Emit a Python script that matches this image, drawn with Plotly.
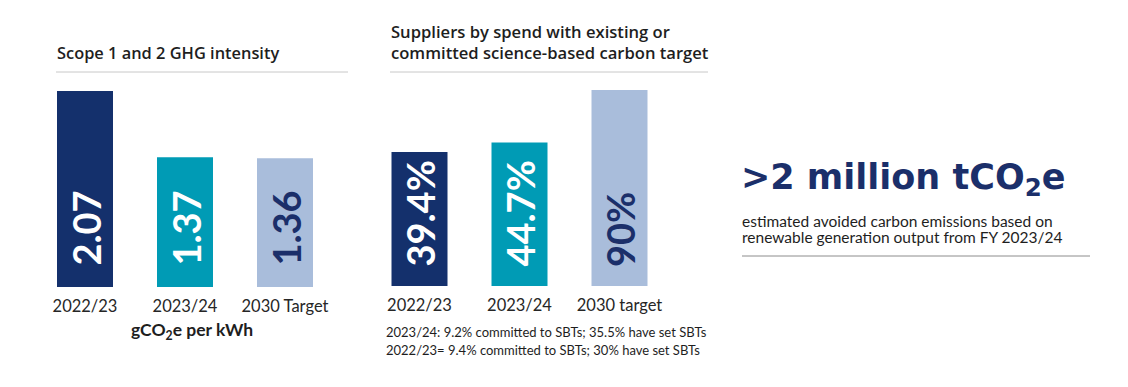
import plotly.graph_objects as go

W, H = 1128, 387

# ---- data ----
ghg_categories = ["2022/23", "2023/24", "2030 Target"]
ghg_values = [2.07, 1.37, 1.36]
ghg_labels = ["2.07", "1.37", "1.36"]

sbt_categories = ["2022/23", "2023/24", "2030 target"]
sbt_values = [39.4, 44.7, 90]
sbt_labels = ["39.4%", "44.7%", "90%"]

bar_colors = ["#14306C", "#009BB5", "#A9BDDB"]
label_colors = ["#FFFFFF", "#FFFFFF", "#1B2F6A"]

FONT = "Lato"
NAVY = "#1B2F6A"
TXT = "#1E1E1E"


def px_x(p):
    return p / W


def px_y(p):
    return 1 - p / H


fig = go.Figure()

fig.add_trace(go.Bar(
    x=ghg_categories, y=ghg_values, marker=dict(color=bar_colors, line=dict(width=0)),
    width=0.56, xaxis="x", yaxis="y", hoverinfo="skip", showlegend=False,
))
fig.add_trace(go.Bar(
    x=sbt_categories, y=sbt_values, marker=dict(color=bar_colors, line=dict(width=0)),
    width=0.56, xaxis="x2", yaxis="y2", hoverinfo="skip", showlegend=False,
))

tick_font = dict(family=FONT, size=16.5, color="#262626")

fig.update_layout(
    width=W, height=H,
    margin=dict(l=0, r=0, t=0, b=0),
    paper_bgcolor="white", plot_bgcolor="white",
    xaxis=dict(domain=[px_x(35), px_x(335)], range=[-0.5, 2.5], type="category",
               showgrid=False, zeroline=False, showline=False, ticks="",
               tickfont=tick_font, ticklabelstandoff=7, fixedrange=True),
    yaxis=dict(domain=[px_y(287), px_y(80)], range=[0, 207 / 94.7], visible=False,
               fixedrange=True),
    xaxis2=dict(domain=[px_x(369.5), px_x(669.5)], range=[-0.5, 2.5], type="category",
                showgrid=False, zeroline=False, showline=False, ticks="",
                tickfont=tick_font, ticklabelstandoff=7, anchor="y2", fixedrange=True),
    yaxis2=dict(domain=[px_y(286), px_y(80)], type="log", range=[0.820, 2.012],
                visible=False, anchor="x2", fixedrange=True),
)

annotations = []
# value labels inside bars
for cat, lab, col in zip(ghg_categories, ghg_labels, label_colors):
    annotations.append(dict(
        x=cat, y=0, xref="x", yref="y domain", text=lab, showarrow=False,
        textangle=-90, xanchor="center", yanchor="bottom", yshift=19,
        font=dict(family=FONT, size=38, color=col, weight="bold"),
    ))
for cat, lab, col in zip(sbt_categories, sbt_labels, label_colors):
    annotations.append(dict(
        x=cat, y=0, xref="x2", yref="y2 domain", text=lab, showarrow=False,
        textangle=-90, xanchor="center", yanchor="bottom", yshift=17,
        font=dict(family=FONT, size=38, color=col, weight="bold"),
    ))

TITLE_FONT = "Open Sans"
# titles
annotations.append(dict(
    x=px_x(55), y=px_y(53), xref="paper", yref="paper", xanchor="left", yanchor="middle",
    text="Scope 1 and 2 GHG intensity", showarrow=False,
    font=dict(family=TITLE_FONT, size=16.4, color=TXT, weight=600),
))
annotations.append(dict(
    x=px_x(389), y=px_y(32), xref="paper", yref="paper", xanchor="left", yanchor="middle",
    text="Suppliers by spend with existing or", showarrow=False,
    font=dict(family=TITLE_FONT, size=16.6, color=TXT, weight=600),
))
annotations.append(dict(
    x=px_x(389), y=px_y(53), xref="paper", yref="paper", xanchor="left", yanchor="middle",
    text="committed science-based carbon target", showarrow=False,
    font=dict(family=TITLE_FONT, size=16.6, color=TXT, weight=600),
))
# unit label
annotations.append(dict(
    x=px_x(192), y=px_y(331), xref="paper", yref="paper", xanchor="center", yanchor="middle",
    text="gCO<sub>2</sub>e per kWh", showarrow=False,
    font=dict(family=FONT, size=17.5, color=TXT, weight="bold"),
))
# notes
annotations.append(dict(
    x=px_x(384), y=px_y(332), xref="paper", yref="paper", xanchor="left", yanchor="middle",
    text="2023/24: 9.2% committed to SBTs; 35.5% have set SBTs", showarrow=False,
    font=dict(family=FONT, size=13, color=TXT),
))
annotations.append(dict(
    x=px_x(384), y=px_y(350), xref="paper", yref="paper", xanchor="left", yanchor="middle",
    text="2022/23= 9.4% committed to SBTs; 30% have set SBTs", showarrow=False,
    font=dict(family=FONT, size=13, color=TXT),
))
# right-hand callout
annotations.append(dict(
    x=px_x(739), y=px_y(179), xref="paper", yref="paper", xanchor="left", yanchor="middle",
    text=">2 million tCO<sub>2</sub>e", showarrow=False,
    font=dict(family="DejaVu Sans", size=35, color=NAVY, weight="bold"),
))
annotations.append(dict(
    x=px_x(740), y=px_y(221), xref="paper", yref="paper", xanchor="left", yanchor="middle",
    text="estimated avoided carbon emissions based on", showarrow=False,
    font=dict(family=FONT, size=15.5, color=TXT),
))
annotations.append(dict(
    x=px_x(740), y=px_y(237), xref="paper", yref="paper", xanchor="left", yanchor="middle",
    text="renewable generation output from FY 2023/24", showarrow=False,
    font=dict(family=FONT, size=15.5, color=TXT),
))

shapes = [
    dict(type="line", xref="paper", yref="paper", x0=px_x(56), x1=px_x(348),
         y0=px_y(72), y1=px_y(72), line=dict(color="#C8C8C8", width=1)),
    dict(type="line", xref="paper", yref="paper", x0=px_x(390), x1=px_x(708),
         y0=px_y(72), y1=px_y(72), line=dict(color="#C8C8C8", width=1)),
    dict(type="line", xref="paper", yref="paper", x0=px_x(742), x1=px_x(1090),
         y0=px_y(256), y1=px_y(256), line=dict(color="#8C8C8C", width=1)),
]

fig.update_layout(annotations=annotations, shapes=shapes)

fig.write_html(
    "out.html",
    config={"displayModeBar": False},
    post_script="document.body.style.margin='0';document.body.style.overflow='hidden';",
)
